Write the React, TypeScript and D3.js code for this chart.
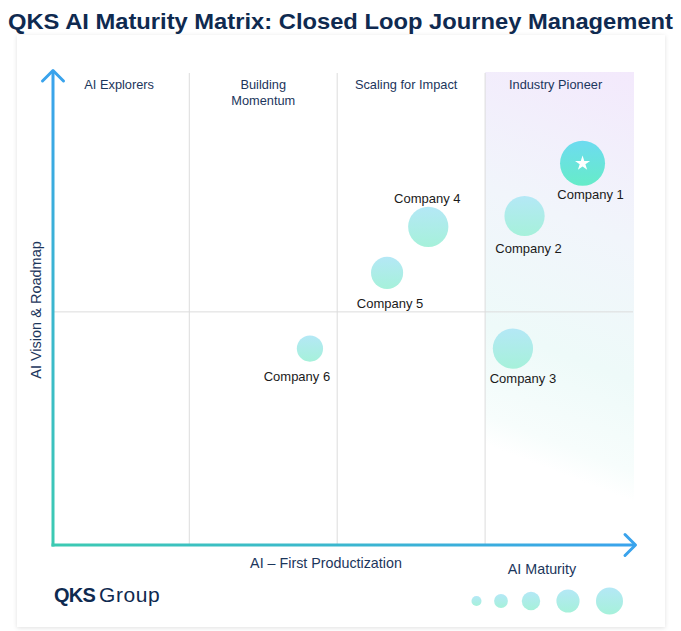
import React from 'react';
import * as d3 from 'd3';

// data
const companies = ['Company 1', 'Company 2', 'Company 3', 'Company 4', 'Company 5', 'Company 6'];
const productization = [9.13, 8.13, 7.93, 6.47, 5.76, 4.43]; // x, 0-10
const vision = [8.12, 7.0, 4.18, 6.77, 5.79, 4.18]; // y, 0-10
const maturity = [5, 4.0, 4.0, 4.0, 2.55, 1.7]; // bubble size
const leaders = ['Company 1'];

const columns = ['AI Explorers', 'Building\nMomentum', 'Scaling for Impact', 'Industry Pioneer'];
const columnEdges = [0, 2.35, 4.9, 7.45, 10];
const visionMid = 4.96;
const legendSizes = [0.35, 0.7, 1.3, 2.1, 2.9];

const W = 681;
const H = 631;
const x0 = 53, x1 = 633, yTop = 75, yBot = 545;
const NAVY = '#1c365c';

// label placement (px offsets from bubble centre)
const labelDx = [8, 4, 10, -1, 3, -13];
const labelDy = [36, 37, 34, -24, 35, 32];
const columnShift = [-2, 0, -5, -3.5];

export default function App() {
  const x = d3.scaleLinear().domain([0, 10]).range([x0, x1]);
  const y = d3.scaleLinear().domain([0, 10]).range([yBot, yTop]);
  const r = d3.scaleSqrt().domain([0, 5]).range([0, 22.5]);

  const star = d3.symbol().type(d3.symbolStar).size(70)() as string;

  const legendX = d3.scaleOrdinal<number, number>()
    .domain(d3.range(legendSizes.length))
    .range([476.5, 501, 531, 568, 609.5]);

  const shadeX = x(columnEdges[3]);

  return (
    <svg width={W} height={H} style={{ position: 'absolute', left: 0, top: 0 }} fontFamily="Liberation Sans, Arial, sans-serif">
      <defs>
        <filter id="shadow" x="-5%" y="-5%" width="110%" height="110%">
          <feDropShadow dx="0" dy="1" stdDeviation="2" floodColor="#000" floodOpacity="0.12" />
        </filter>
        <linearGradient id="yAxisGrad" gradientUnits="userSpaceOnUse" x1={x0} y1={yTop} x2={x0} y2={yBot}>
          <stop offset="0%" stopColor="#3aa3ec" />
          <stop offset="100%" stopColor="#3ccab2" />
        </linearGradient>
        <linearGradient id="xAxisGrad" gradientUnits="userSpaceOnUse" x1={x0} y1={yBot} x2={x1} y2={yBot}>
          <stop offset="0%" stopColor="#3ccab2" />
          <stop offset="100%" stopColor="#3aa3ec" />
        </linearGradient>
        <linearGradient id="pioneerGrad" gradientUnits="userSpaceOnUse" x1={634} y1={72} x2={489} y2={446}>
          <stop offset="0%" stopColor="#f3e9fc" />
          <stop offset="40%" stopColor="#f1f5fb" />
          <stop offset="72%" stopColor="#eefaf9" />
          <stop offset="93%" stopColor="#f7fdfc" />
          <stop offset="100%" stopColor="#ffffff" />
        </linearGradient>
        <linearGradient id="bubbleGrad" x1="0" y1="0" x2="0" y2="1">
          <stop offset="0%" stopColor="#b4e8f6" />
          <stop offset="100%" stopColor="#a6f1da" />
        </linearGradient>
        <linearGradient id="leaderGrad" x1="0" y1="0" x2="0" y2="1">
          <stop offset="0%" stopColor="#6ddbf0" />
          <stop offset="100%" stopColor="#66ecc8" />
        </linearGradient>
      </defs>

      <text x={W / 2} y={29} textAnchor="middle" fontSize={22} fontWeight="bold" fill="#0f2a50"
        textLength={665} lengthAdjust="spacingAndGlyphs">
        QKS AI Maturity Matrix: Closed Loop Journey Management
      </text>

      <rect x={17} y={35} width={648} height={592} fill="#fff" filter="url(#shadow)" />

      {/* Industry Pioneer shading */}
      <rect x={shadeX} y={72} width={x(10) - shadeX + 1} height={yBot - 72} fill="url(#pioneerGrad)" />

      {/* column separators */}
      {columnEdges.slice(1, 4).map((v, i) => (
        <line key={i} x1={x(v)} x2={x(v)} y1={yTop - 2} y2={yBot} stroke="#dcdcdc" strokeWidth={1} />
      ))}
      <line x1={x0} x2={x1} y1={y(visionMid)} y2={y(visionMid)} stroke="#dcdcdc" strokeWidth={1} />

      {/* column titles */}
      {columns.map((c, i) => {
        const cx = (x(columnEdges[i]) + x(columnEdges[i + 1])) / 2 + columnShift[i];
        const lines = c.split('\n');
        return (
          <text key={c} x={cx} y={89} textAnchor="middle" fontSize={12.8} fill={NAVY}>
            {lines.map((l, j) => (
              <tspan key={j} x={cx} dy={j === 0 ? 0 : 16}>{l}</tspan>
            ))}
          </text>
        );
      })}

      {/* axes */}
      <line x1={x0} x2={x0} y1={yBot + 1.5} y2={yTop - 4} stroke="url(#yAxisGrad)" strokeWidth={3} />
      <polyline points={`${x0 - 10.5},${yTop + 6} ${x0},${yTop - 4.5} ${x0 + 10.5},${yTop + 6}`} fill="none" stroke="#3aa3ec" strokeWidth={3} strokeLinecap="round" strokeLinejoin="round" />
      <line x1={x0 - 1.5} x2={x1 + 2} y1={yBot} y2={yBot} stroke="url(#xAxisGrad)" strokeWidth={3} />
      <polyline points={`${x1 - 8},${yBot - 10.5} ${x1 + 2.5},${yBot} ${x1 - 8},${yBot + 10.5}`} fill="none" stroke="#3aa3ec" strokeWidth={3} strokeLinecap="round" strokeLinejoin="round" />

      <text transform={`translate(41,${310}) rotate(-90)`} textAnchor="middle" fontSize={14.5} fill={NAVY}>AI Vision &amp; Roadmap</text>
      <text x={326} y={568} textAnchor="middle" fontSize={14.3} fill={NAVY}>AI – First Productization</text>

      {/* bubbles */}
      {companies.map((c, i) => {
        const cx = x(productization[i]);
        const cy = y(vision[i]);
        const rr = r(maturity[i]);
        const lead = leaders.includes(c);
        return (
          <g key={c}>
            <circle cx={cx} cy={cy} r={rr} fill={lead ? 'url(#leaderGrad)' : 'url(#bubbleGrad)'} />
            {lead && <path d={star} transform={`translate(${cx},${cy})`} fill="#fff" />}
            <text x={cx + labelDx[i]} y={cy + labelDy[i]}
              textAnchor="middle" fontSize={13} fill="#1a1a1a">{c}</text>
          </g>
        );
      })}

      {/* logo */}
      <text x={54} y={602} fill="#0f2a50">
        <tspan fontWeight="bold" fontSize={20} letterSpacing={-0.8}>QKS</tspan>
        <tspan dx={4} fontSize={21} letterSpacing={0.6}>Group</tspan>
      </text>

      {/* size legend */}
      <text x={542} y={574} textAnchor="middle" fontSize={14.3} fill={NAVY}>AI Maturity</text>
      {legendSizes.map((s, i) => (
        <circle key={i} cx={legendX(i)} cy={601} r={r(s) * 0.76 + 0.5} fill="url(#bubbleGrad)" />
      ))}
    </svg>
  );
}
